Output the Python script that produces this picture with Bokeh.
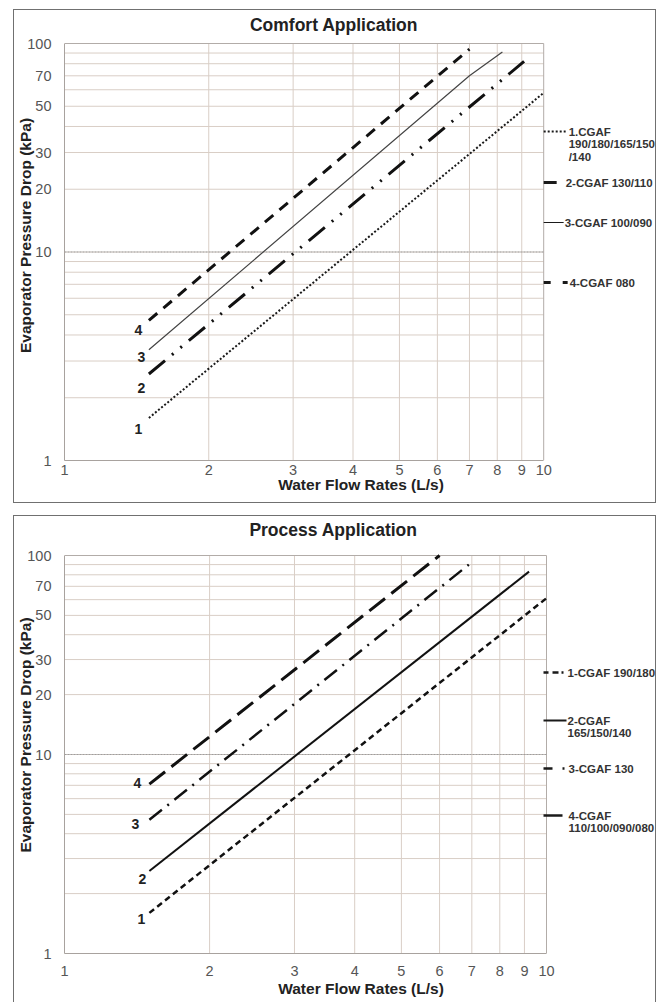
from bokeh.plotting import figure
from bokeh.layouts import column
from bokeh.models import Range1d, FixedTicker, PrintfTickFormatter, Label
from bokeh.embed import file_html
from bokeh.resources import INLINE

FONT = "Liberation Sans"

# ---------------- data ----------------
flow_ticks = [1, 2, 3, 4, 5, 6, 7, 8, 9, 10]
dp_ticks = [1, 10, 20, 30, 50, 70, 100]
dp_grid = [1, 2, 3, 4, 5, 6, 7, 8, 9, 10, 20, 30, 40, 50, 60, 70, 80, 90, 100]
flow_min, flow_max = 1, 10
dp_min, dp_max = 1, 100
dp_mid = 10

# Comfort application
comfort_flow_1 = [1.5, 10.0]
comfort_dp_1 = [1.6, 58.0]
comfort_flow_2 = [1.5, 9.1]
comfort_dp_2 = [2.6, 82.0]
comfort_flow_3 = [1.5, 7.0, 8.2]
comfort_dp_3 = [3.4, 70.0, 91.0]
comfort_flow_4 = [1.5, 7.0]
comfort_dp_4 = [4.7, 94.0]
comfort_legend = [["1.CGAF", "190/180/165/150", "/140"], ["2-CGAF 130/110"],
                  ["3-CGAF 100/090"], ["4-CGAF 080"]]

# Process application
process_flow_1 = [1.5, 10.0]
process_dp_1 = [1.6, 61.0]
process_flow_2 = [1.5, 9.2]
process_dp_2 = [2.6, 83.0]
process_flow_3 = [1.5, 6.9]
process_dp_3 = [4.7, 90.0]
process_flow_4 = [1.5, 6.0]
process_dp_4 = [7.1, 100.0]
process_legend = [["1-CGAF 190/180"], ["2-CGAF", "165/150/140"],
                  ["3-CGAF 130"], ["4-CGAF", "110/100/090/080"]]

curve_names = ["1", "2", "3", "4"]


def make_chart(title, flows, dps, styles, legend_texts, g):
    fl, fr, ft, fb = g["plot"]          # page px of x=1, x=10, y=100, y=1
    figl, figr, figt, figb = g["fig"]   # page px of the figure canvas
    dx = (fr - fl)
    dy = (fb - ft) / 2.0

    def to_data(px, py):
        return 10 ** ((px - fl) / dx), 10 ** ((fb - py) / dy)

    x_end, y_end = to_data(figr, figt)
    p = figure(x_axis_type="log", y_axis_type="log",
               x_range=Range1d(1, x_end), y_range=Range1d(1, y_end),
               width=figr - figl, height=figb - figt,
               min_border_left=fl - figl, min_border_right=0,
               min_border_top=0, min_border_bottom=figb - fb,
               output_backend="svg", toolbar_location=None,
               background_fill_color="white", border_fill_color="white",
               margin=g["margin"])
    p.styles = g["css"]
    p.outline_line_color = None
    p.xgrid.visible = False
    p.ygrid.visible = False

    for ax in (p.xaxis[0], p.yaxis[0]):
        ax.major_tick_out = 0
        ax.major_tick_in = 0
        ax.minor_tick_out = 0
        ax.minor_tick_in = 0
        ax.axis_line_color = "#a8a29e"
        ax.major_label_text_font = FONT
        ax.major_label_text_font_size = "14.5px"
        ax.major_label_text_color = "#555555"
        ax.axis_label_text_font = FONT
        ax.axis_label_text_font_size = "15.5px"
        ax.axis_label_text_font_style = "bold"
        ax.axis_label_text_color = "#222222"
        ax.formatter = PrintfTickFormatter(format="%d")

    p.xaxis.bounds = (flow_min, flow_max)
    p.yaxis.bounds = (dp_min, dp_max)
    p.xaxis.ticker = FixedTicker(ticks=flow_ticks, minor_ticks=[])
    p.yaxis.ticker = FixedTicker(ticks=dp_ticks, minor_ticks=[])
    p.xaxis.axis_label = "Water Flow Rates (L/s)"
    p.yaxis.axis_label = "Evaporator Pressure Drop (kPa)"
    p.xaxis.major_label_standoff = g["xstand"]
    p.xaxis.axis_label_standoff = g["xlabstand"]
    p.yaxis.major_label_standoff = 13
    p.yaxis.axis_label_standoff = -10

    # grid drawn from tick lists
    inner_x = [t for t in flow_ticks if t not in (flow_min, flow_max)]
    inner_y = [t for t in dp_grid if t not in (dp_min, dp_max)]
    grid_col = "#d9cec6"
    p.segment(x0=inner_x, y0=[dp_min] * len(inner_x), x1=inner_x, y1=[dp_max] * len(inner_x),
              line_color=grid_col, line_width=1)
    p.segment(x0=[flow_min] * len(inner_y), y0=inner_y, x1=[flow_max] * len(inner_y), y1=inner_y,
              line_color=grid_col, line_width=1)
    # plot-area edges (top and right) and the 10 kPa line
    p.segment(x0=[flow_min, flow_max], y0=[dp_max, dp_min], x1=[flow_max, flow_max],
              y1=[dp_max, dp_max], line_color="#b2aca8", line_width=1)
    p.segment(x0=[flow_min], y0=[dp_mid], x1=[flow_max], y1=[dp_mid],
              line_color="#9e9e9e", line_width=1, line_dash="2 1")

    # curves
    for (xs, ys), st in zip(zip(flows, dps), styles):
        p.line(xs, ys, line_color=st["color"], line_width=st["width"],
               line_dash=st["dash"], line_cap="butt")

    # curve number labels
    for name, (px, py) in zip(curve_names, g["num_pos"]):
        x, y = to_data(px, py)
        p.add_layout(Label(x=x, y=y, text=name, text_font=FONT, text_font_size="14px",
                           text_font_style="bold", text_color="#222222",
                           text_align="center", text_baseline="middle"))

    # title
    tx, ty = to_data(*g["title_pos"])
    p.add_layout(Label(x=tx, y=ty, text=title, text_font=FONT, text_font_size="17.5px",
                       text_font_style="bold", text_color="#222222",
                       text_align="center", text_baseline="middle"))

    # legend
    for lines, item in zip(legend_texts, g["legend"]):
        py = item["y"]
        x0, y0 = to_data(item["x0"], py)
        x1, _ = to_data(item["x1"], py)
        p.line([x0, x1], [y0, y0], line_color="#1a1a1a", line_width=item["w"],
               line_dash=item["dash"], line_cap="butt")
        for i, txt in enumerate(lines):
            lx, ly = to_data(item["tx"], py + i * 12.5)
            p.add_layout(Label(x=lx, y=ly, text=txt, text_font=FONT, text_font_size="11.5px",
                               text_font_style="bold", text_color="#333333",
                               text_align="left", text_baseline="middle"))
    return p


comfort_styles = [
    dict(color="#1a1a1a", width=2, dash="2 2"),
    dict(color="#111111", width=3, dash="21 9 2 9 2 9"),
    dict(color="#444444", width=1.2, dash="solid"),
    dict(color="#111111", width=3, dash="11 8"),
]
process_styles = [
    dict(color="#111111", width=2.5, dash="6 4"),
    dict(color="#111111", width=2, dash="solid"),
    dict(color="#111111", width=2.5, dash="16 7 2 7"),
    dict(color="#111111", width=3, dash="20 8"),
]

g_top = dict(
    plot=(63, 543, 43, 460), fig=(14, 657, 10, 504), margin=(9, 0, 0, 13),
    css={"border": "1px solid #707070"},
    xstand=4, xlabstand=-2,
    num_pos=[(137, 428), (140, 387), (140, 356), (137, 329)],
    title_pos=(333, 24),
    legend=[
        dict(x0=543, x1=565, y=131, w=2, dash="2 2", tx=568),
        dict(x0=543, x1=556, y=182, w=3, dash="solid", tx=565),
        dict(x0=543, x1=563, y=222, w=1.2, dash="solid", tx=564),
        dict(x0=543, x1=567, y=282, w=3, dash="7 12", tx=569),
    ],
)
g_bot = dict(
    plot=(64, 546, 557, 955), fig=(14, 657, 518, 1005), margin=(12, 0, 0, 13),
    css={"border": "1px solid #707070", "border-bottom": "none"},
    xstand=12, xlabstand=1,
    num_pos=[(141, 920), (142, 880), (135, 825), (137, 784)],
    title_pos=(333, 531),
    legend=[
        dict(x0=543, x1=565, y=674, w=2.5, dash="5 4 6 3 2 3", tx=567),
        dict(x0=543, x1=566, y=722, w=2, dash="solid", tx=567),
        dict(x0=543, x1=565, y=770, w=2.5, dash="9 10 2 10", tx=568),
        dict(x0=543, x1=562, y=817, w=2.5, dash="solid", tx=568),
    ],
)

p1 = make_chart("Comfort Application",
                [comfort_flow_1, comfort_flow_2, comfort_flow_3, comfort_flow_4],
                [comfort_dp_1, comfort_dp_2, comfort_dp_3, comfort_dp_4],
                comfort_styles, comfort_legend, g_top)
p2 = make_chart("Process Application",
                [process_flow_1, process_flow_2, process_flow_3, process_flow_4],
                [process_dp_1, process_dp_2, process_dp_3, process_dp_4],
                process_styles, process_legend, g_bot)

layout = column(p1, p2, spacing=0)
open("out.html", "w").write(file_html(layout, INLINE))
